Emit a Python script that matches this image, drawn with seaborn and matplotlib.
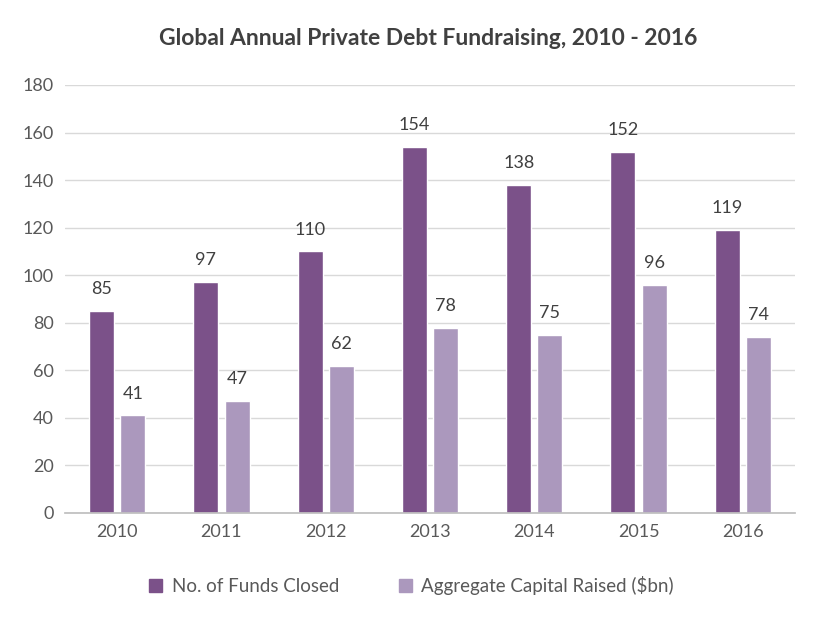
import pandas as pd
import seaborn as sns
import matplotlib.pyplot as plt
from matplotlib.patches import Patch

years = ["2010", "2011", "2012", "2013", "2014", "2015", "2016"]
funds_closed = [85, 97, 110, 154, 138, 152, 119]
capital_raised = [41, 47, 62, 78, 75, 96, 74]
series_names = ["No. of Funds Closed", "Aggregate Capital Raised ($bn)"]
colors = ["#7b5189", "#ab98bd"]

df = pd.DataFrame({
    "year": years * 2,
    "value": funds_closed + capital_raised,
    "series": [series_names[0]] * len(years) + [series_names[1]] * len(years),
})

sns.set_theme(style="white")
plt.rcParams["font.family"] = ["Lato", "DejaVu Sans"]

fig = plt.figure(figsize=(8.23, 6.23), dpi=100)
ax = fig.add_axes([0.079, 0.1766, 0.887, 0.687])

sns.barplot(data=df, x="year", y="value", hue="series", palette=colors,
            width=0.6, gap=0.2, ax=ax, legend=False, saturation=1)

for container in ax.containers:
    ax.bar_label(container, padding=10, fontsize=13, color="#404040")

ax.set_ylim(0, 180)
ax.set_yticks(range(0, 181, 20))
ax.set_xlim(-0.5, 6.5)
ax.yaxis.grid(True, color="#d9d9d9", linewidth=1)
ax.set_axisbelow(True)
for s in ["top", "right", "left"]:
    ax.spines[s].set_visible(False)
ax.spines["bottom"].set_color("#bfbfbf")
ax.tick_params(axis="both", length=0, labelsize=13, labelcolor="#595959", pad=8)
ax.set_xlabel("")
ax.set_ylabel("")

fig.suptitle("Global Annual Private Debt Fundraising, 2010 - 2016", y=0.955,
             fontsize=16.5, fontweight="bold", color="#404040", x=0.52)

handles = [Patch(color=c, label=n) for c, n in zip(colors, series_names)]
fig.legend(handles=handles, loc="center", bbox_to_anchor=(0.5, 0.06), ncol=2,
           frameon=False, fontsize=13.5, labelcolor="#595959",
           handlelength=0.7, handleheight=0.7, handletextpad=0.5,
           columnspacing=3.2)

fig.savefig("out.png", dpi=100)
